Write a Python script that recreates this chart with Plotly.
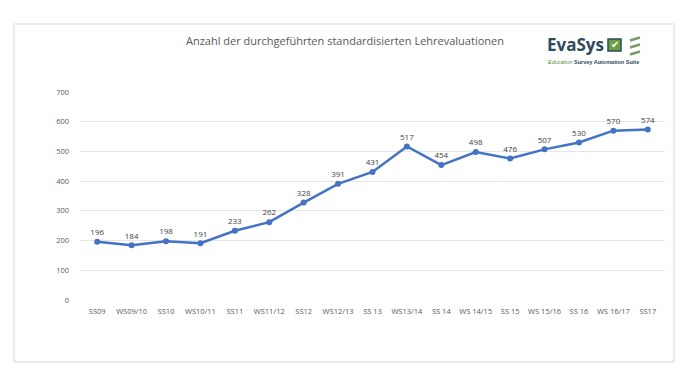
import plotly.graph_objects as go

semesters = ["SS09", "WS09/10", "SS10", "WS10/11", "SS11", "WS11/12", "SS12", "WS12/13",
             "SS 13", "WS13/14", "SS 14", "WS 14/15", "SS 15", "WS 15/16", "SS 16", "WS 16/17", "SS17"]
evaluations = [196, 184, 198, 191, 233, 262, 328, 391, 431, 517, 454, 498, 476, 507, 530, 570, 574]
y_ticks = [0, 100, 200, 300, 400, 500, 600, 700]

FONT = "Open Sans"
OFF = 8  # page body margin
W, H = 686 - OFF, 386 - OFF
L, R, T, B = 80, 665, 92, 300  # plot area in page pixels
ml, mr, mt, mb = L - OFF, W - (R - OFF), T - OFF, H - (B - OFF)
pw, ph = R - L, B - T

def px_x(X): return (X - L) / pw
def px_y(Y): return (B - Y) / ph

fig = go.Figure()
fig.add_trace(go.Scatter(
    x=semesters, y=evaluations, mode="lines+markers+text",
    text=[str(v) for v in evaluations], textposition="top center",
    textfont=dict(family=FONT, size=8, color="#404040"),
    line=dict(color="#4472C4", width=2.5),
    marker=dict(color="#4472C4", size=6),
    cliponaxis=False, hoverinfo="x+y"))

fig.update_layout(
    width=W, height=H,
    margin=dict(l=ml, r=mr, t=mt, b=mb, autoexpand=False),
    paper_bgcolor="white", plot_bgcolor="white",
    showlegend=False,
    font=dict(family=FONT, color="#595959"),
    xaxis=dict(type="category", range=[-0.5, len(semesters) - 0.5],
               showgrid=False, showline=False, zeroline=False, automargin=False,
               tickfont=dict(family=FONT, size=7.5, color="#595959"), ticks="",
               ticklabelstandoff=5),
    yaxis=dict(range=[0, 700], tickvals=y_ticks, showgrid=True, gridcolor="#e6e6e6",
               gridwidth=1, zeroline=False, showline=False, ticks="", automargin=False,
               tickfont=dict(family=FONT, size=7.5, color="#595959"),
               ticklabelstandoff=10),
)

# outer border
fig.add_shape(type="rect", xref="paper", yref="paper",
              x0=px_x(14), x1=px_x(674), y0=px_y(362), y1=px_y(24),
              line=dict(color="#d9d9d9", width=1), fillcolor="rgba(0,0,0,0)", layer="below")

# logo checkbox and stripes
fig.add_shape(type="rect", xref="paper", yref="paper",
              x0=px_x(608), x1=px_x(621), y0=px_y(51), y1=px_y(39),
              fillcolor="#6aa042", line=dict(color="#2e4a5e", width=1.5))
fig.add_annotation(xref="paper", yref="paper", x=px_x(614.5), y=px_y(45),
                   xanchor="center", yanchor="middle",
                   text="✔", showarrow=False, font=dict(family="DejaVu Sans", size=10, color="white"))
for yy in [39, 46, 53]:
    fig.add_shape(type="line", xref="paper", yref="paper",
                  x0=px_x(630), x1=px_x(640), y0=px_y(yy + 1.5), y1=px_y(yy - 1.5),
                  line=dict(color="#7a9a6a", width=2.5))

fig.add_annotation(xref="paper", yref="paper", x=px_x(345), y=px_y(40),
                   xanchor="center", yanchor="middle",
                   text="Anzahl der durchgeführten standardisierten Lehrevaluationen",
                   showarrow=False, font=dict(family=FONT, size=11, color="#595959"))
fig.add_annotation(xref="paper", yref="paper", x=px_x(545), y=px_y(45),
                   xanchor="left", yanchor="middle",
                   text="<b>EvaSys</b>", showarrow=False,
                   font=dict(family="Open Sans", size=17, color="#2e4a5e"))
fig.add_annotation(xref="paper", yref="paper", x=px_x(546), y=px_y(62.5),
                   xanchor="left", yanchor="middle",
                   text="<i><span style='color:#5a8f3a'>Education</span></i> <b>Survey Automation Suite</b>",
                   showarrow=False, font=dict(family="Liberation Sans", size=5.5, color="#2e4a5e"))

fig.write_html("out.html")
